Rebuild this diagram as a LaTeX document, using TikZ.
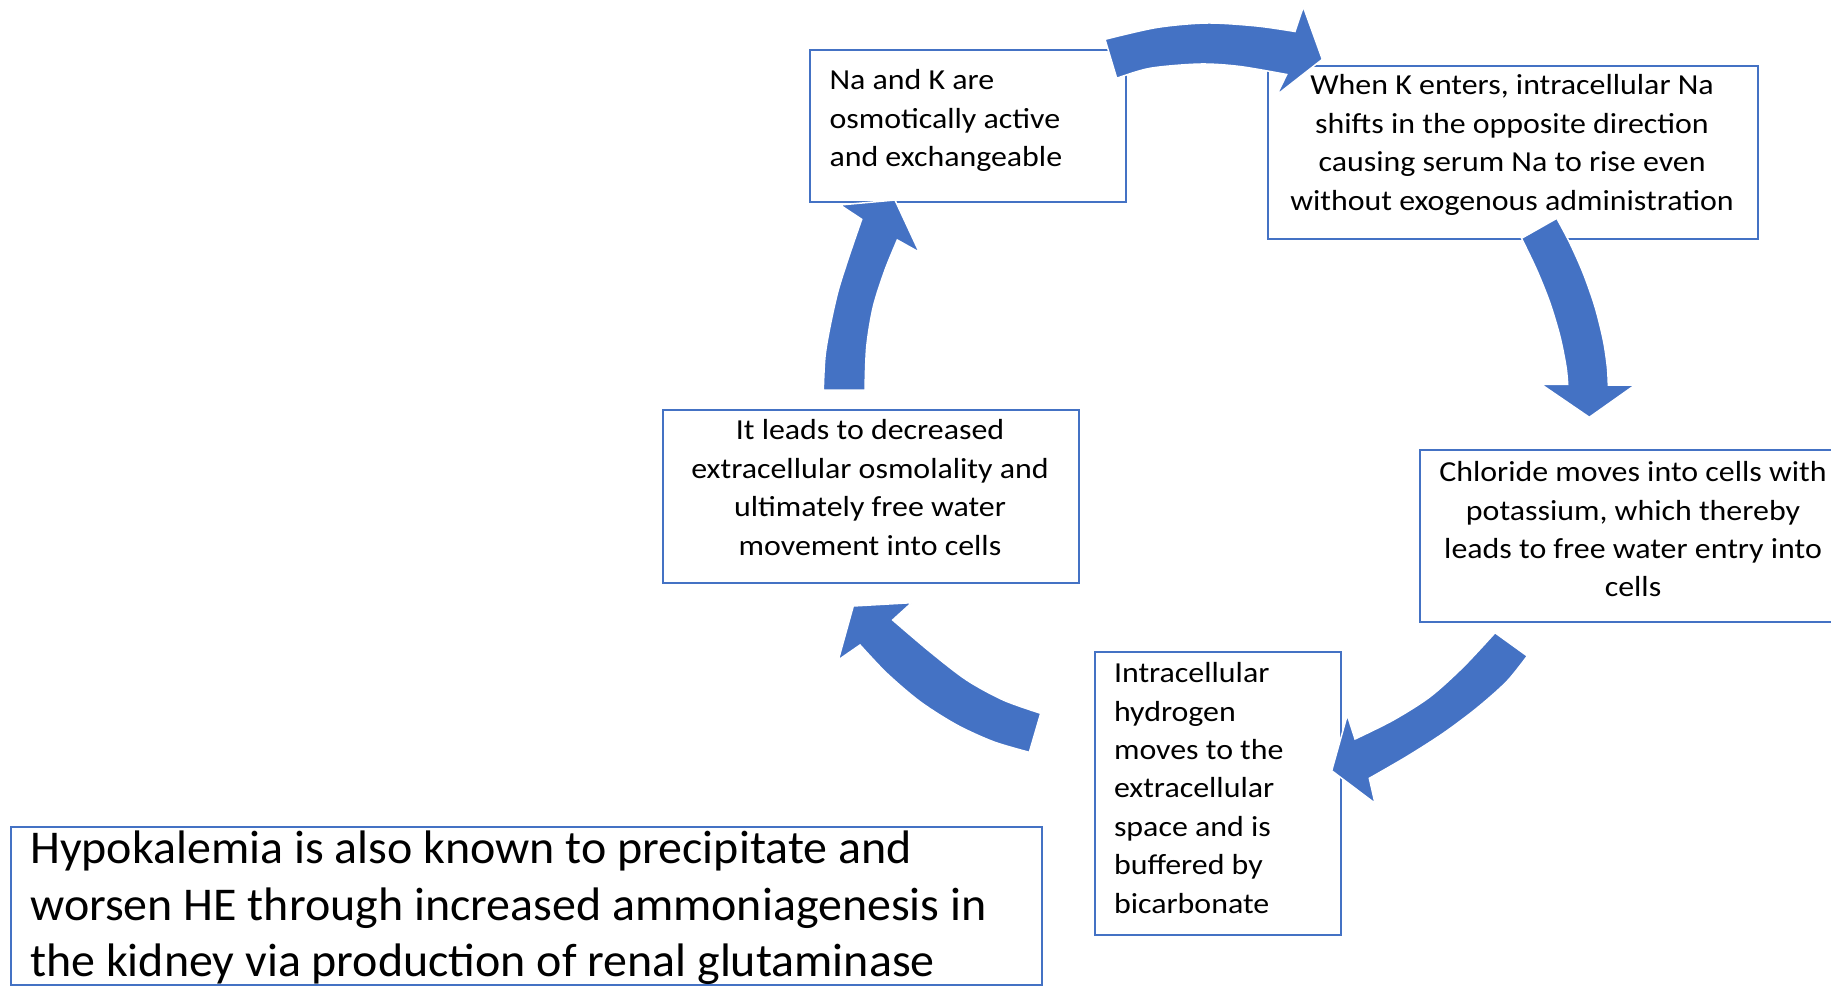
\documentclass[tikz,border=0pt]{standalone}
\usepackage{fontspec}
\setmainfont{Carlito}
\newfontfamily\smallfont{Carlito}[FakeStretch=1.1]
\newfontfamily\bigfont{Carlito}[FakeStretch=1.02]
\definecolor{obl}{HTML}{4472C4}
\begin{document}
\begin{tikzpicture}[x=1pt,y=-1pt,
  boxstyle/.style={draw=obl, line width=2.2pt, fill=white, inner sep=0pt, anchor=north west},
  smalltxt/.style={font=\smallfont\fontsize{29}{38.4}\selectfont, inner sep=0pt, text=black},
  bigtxt/.style={font=\bigfont\fontsize{47}{56.7}\selectfont, inner sep=0pt, text=black},
  arrowfill/.style={fill=obl, draw=white, line width=1.5pt, line join=miter}]
\clip (0,0) rectangle (1831,986);
\useasboundingbox (0,0) rectangle (1831,986);

% boxes
\node[boxstyle, minimum width=316, minimum height=152] (b1) at (809,49) {};
\node[boxstyle, minimum width=490, minimum height=173] (b2) at (1267,65) {};
\node[boxstyle, minimum width=428, minimum height=172] (b3) at (1419,449) {};
\node[boxstyle, minimum width=246, minimum height=283] (b4) at (1094,651) {};
\node[boxstyle, minimum width=416, minimum height=173] (b5) at (662,409) {};
\node[boxstyle, minimum width=1031, minimum height=158] (b6) at (10,826) {};

% texts
\node[smalltxt, align=left, anchor=west] (t1) at (829.3,120.7)
  {\strut Na and K are\\\strut osmotically active\\\strut and exchangeable};
\node[smalltxt, align=center] (t2) at (1512,144.9)
  {\strut When K enters, intracellular Na\\\strut shifts in the opposite direction\\\strut causing serum Na to rise even\\\strut without exogenous administration};
\node[smalltxt, align=center] (t3) at (1633,531.6)
  {\strut Chloride moves into cells with\\\strut potassium, which thereby\\\strut leads to free water entry into\\\strut cells};
\node[smalltxt, align=left, anchor=west] (t4) at (1113.8,790.2)
  {\strut Intracellular\\\strut hydrogen\\\strut moves to the\\\strut extracellular\\\strut space and is\\\strut buffered by\\\strut bicarbonate};
\node[smalltxt, align=center] (t5) at (870,489.9)
  {\strut It leads to decreased\\\strut extracellular osmolality and\\\strut ultimately free water\\\strut movement into cells};
\node[bigtxt, align=left, anchor=west] (t6) at (30,908.7)
  {\strut Hypokalemia is also known to precipitate and\\\strut worsen HE through increased ammoniagenesis in\\\strut the kidney via production of renal glutaminase};

% curved block arrows
% A1: b1 -> b2
\path[arrowfill] plot[smooth] coordinates {(1105,39.3) (1156.7,27.5) (1207,23) (1256.7,26) (1295,31.5)}
  -- (1303.3,6.7) -- (1322.3,59.3) -- (1276.7,95)
  -- plot[smooth] coordinates {(1286.7,74.5) (1240,66.5) (1200,64) (1150,68.3) (1116.7,78.3)} -- cycle;
% A2: b2 -> b3
\path[arrowfill] plot[smooth] coordinates {(1556.8,218.3) (1570,243.3) (1583.3,273.3) (1595,306.7) (1603.3,340) (1607.3,366.7) (1608.3,385)}
  -- (1635,385) -- (1589.3,417.3) -- (1541,384.3)
  -- plot[smooth] coordinates {(1567.7,384.3) (1566,366.7) (1560,336.7) (1550,303.3) (1536.7,270) (1521.5,238.3)} -- cycle;
% A3: b3 -> b4
\path[arrowfill] plot[smooth] coordinates {(1527.3,656) (1506.7,681.7) (1476.7,708.3) (1443.3,733.3) (1406.7,756.7) (1369.3,778.3)}
  -- (1375,803.3) -- (1331.7,770.7) -- (1347.3,715)
  -- plot[smooth] coordinates {(1355,739) (1393.3,720) (1430,696.7) (1463.3,666.7) (1495,632.7)} -- cycle;
% A4: b4 -> b5
\path[arrowfill] plot[smooth] coordinates {(1029.3,752.3) (993.3,741.7) (956.7,725) (920,701.7) (886.7,673.3) (860,645)}
  -- (838.3,660) -- (853.3,606) -- (911.7,602.7)
  -- plot[smooth] coordinates {(892.7,620) (930,651.7) (966.7,680) (1003.3,700) (1040.7,713.3)} -- cycle;
% A5: b5 -> b1
\path[arrowfill] plot[smooth] coordinates {(823.3,390) (825,356.7) (830,326.7) (838.3,290) (850,253.3) (861.7,219.3)}
  -- (840,205) -- (895,200) -- (919.3,252.3)
  -- plot[smooth] coordinates {(897.3,240) (885,270) (873.3,306.7) (866.7,346.7) (865,390)} -- cycle;
\end{tikzpicture}
\end{document}
